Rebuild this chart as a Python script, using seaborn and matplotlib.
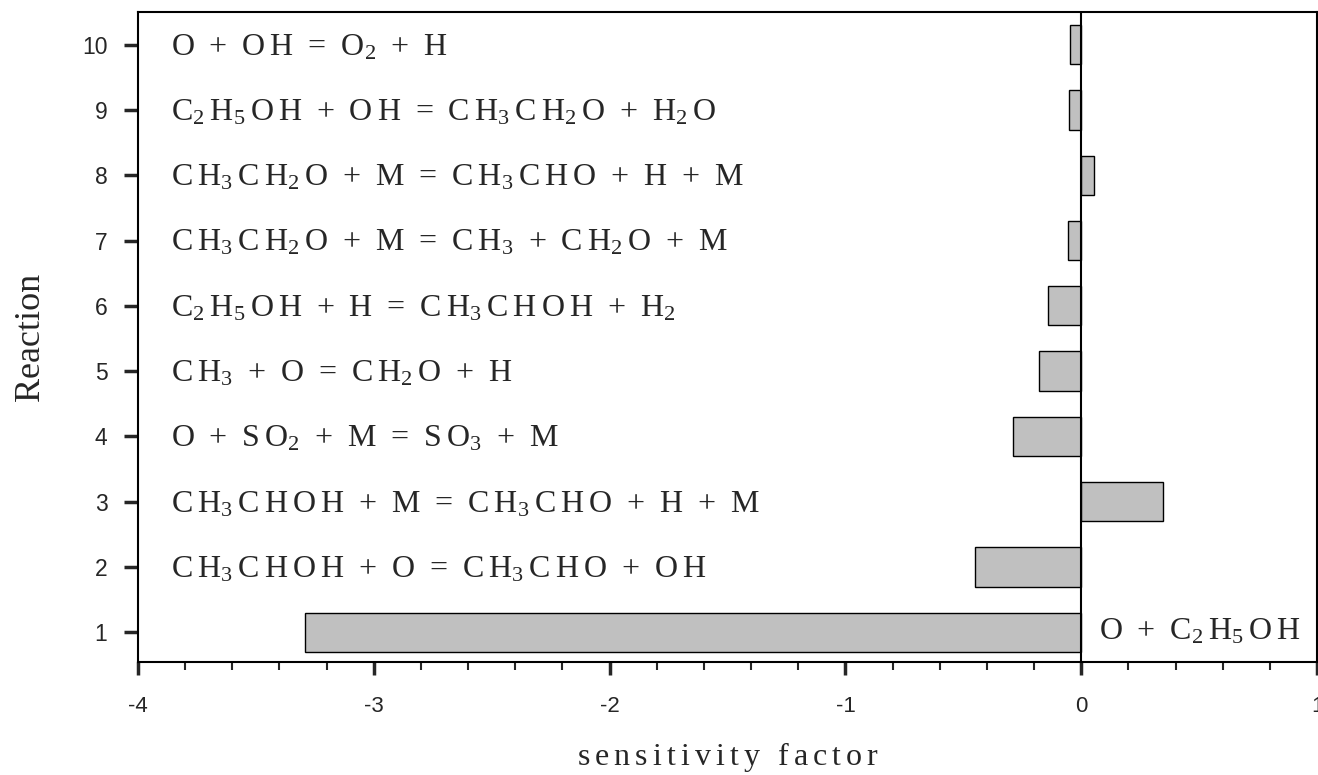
import matplotlib
matplotlib.use("Agg")
import matplotlib.pyplot as plt
import seaborn as sns
from matplotlib.ticker import MultipleLocator

# reaction index, sensitivity value and the reaction written out
reaction = [1, 2, 3, 4, 5, 6, 7, 8, 9, 10]
sensitivity = [-3.29, -0.45, 0.345, -0.29, -0.18, -0.14, -0.055, 0.055, -0.05, -0.047]
equations = [
    "",
    "CH3CHOH + O = CH3CHO + OH",
    "CH3CHOH + M = CH3CHO + H + M",
    "O + SO2 + M = SO3 + M",
    "CH3 + O = CH2O + H",
    "C2H5OH + H = CH3CHOH + H2",
    "CH3CH2O + M = CH3 + CH2O + M",
    "CH3CH2O + M = CH3CHO + H + M",
    "C2H5OH + OH = CH3CH2O + H2O",
    "O + OH = O2 + H",
]
title_reaction = "O + C2H5OH"
x_ticks = [-4, -3, -2, -1, 0, 1]


def tracked(formula, gap=0.22, space=""):
    # spread the letters out and put digits as subscripts
    parts = []
    for ch in formula:
        if ch.isdigit():
            parts[-1] += "_{%s}" % ch
        elif ch == " ":
            parts.append(space)
        else:
            parts.append(ch)
    return "$" + (r"\hspace{%g}" % gap).join(parts) + "$"


sns.set_style("ticks")
plt.rcParams["font.family"] = ["Liberation Serif", "DejaVu Serif"]
plt.rcParams["mathtext.fontset"] = "custom"
plt.rcParams["mathtext.rm"] = "Liberation Serif"
plt.rcParams["mathtext.it"] = "Liberation Serif:italic"
plt.rcParams["mathtext.bf"] = "Liberation Serif:bold"
plt.rcParams["mathtext.default"] = "regular"

fig = plt.figure(figsize=(13.18, 7.75), dpi=100)
ax = fig.add_axes([0.1047, 0.1455, 0.8946, 0.839])

sns.barplot(x=sensitivity, y=reaction, orient="y", native_scale=True, width=0.6,
            color="#c0c0c0", edgecolor="black", linewidth=1, errorbar=None,
            saturation=1, ax=ax)

ax.axvline(0, color="black", lw=1.5, zorder=5)

for r, eq in zip(reaction, equations):
    if eq:
        ax.text(-3.86, r - 0.04, tracked(eq), fontsize=23, va="center", ha="left")
ax.text(0.075, 1, tracked(title_reaction), fontsize=23, va="center", ha="left")

ax.set_xlim(-4, 1)
ax.set_ylim(0.54, 10.5)
ax.set_xticks(x_ticks)
ax.set_xticklabels([str(t) for t in x_ticks], family="Liberation Sans", fontsize=16)
ax.xaxis.set_minor_locator(MultipleLocator(0.2))
ax.set_yticks(reaction)
ax.set_yticklabels([str(r) for r in reaction], family="Liberation Sans", fontsize=16.5)

ax.tick_params(axis="x", which="major", direction="out", length=9, width=2.5, pad=15)
ax.tick_params(axis="x", which="minor", direction="out", length=5.5, width=1.5)
ax.tick_params(axis="y", which="major", direction="out", length=10, width=2.5, pad=12)

for s in ax.spines.values():
    s.set_linewidth(1.5)
    s.set_color("black")

ax.set_xlabel(tracked("sensitivity factor", gap=0.22, space=r"\ "), fontsize=23, labelpad=17)
ax.set_ylabel("Reaction", fontsize=26, labelpad=25)

fig.savefig("out.png", dpi=100)
